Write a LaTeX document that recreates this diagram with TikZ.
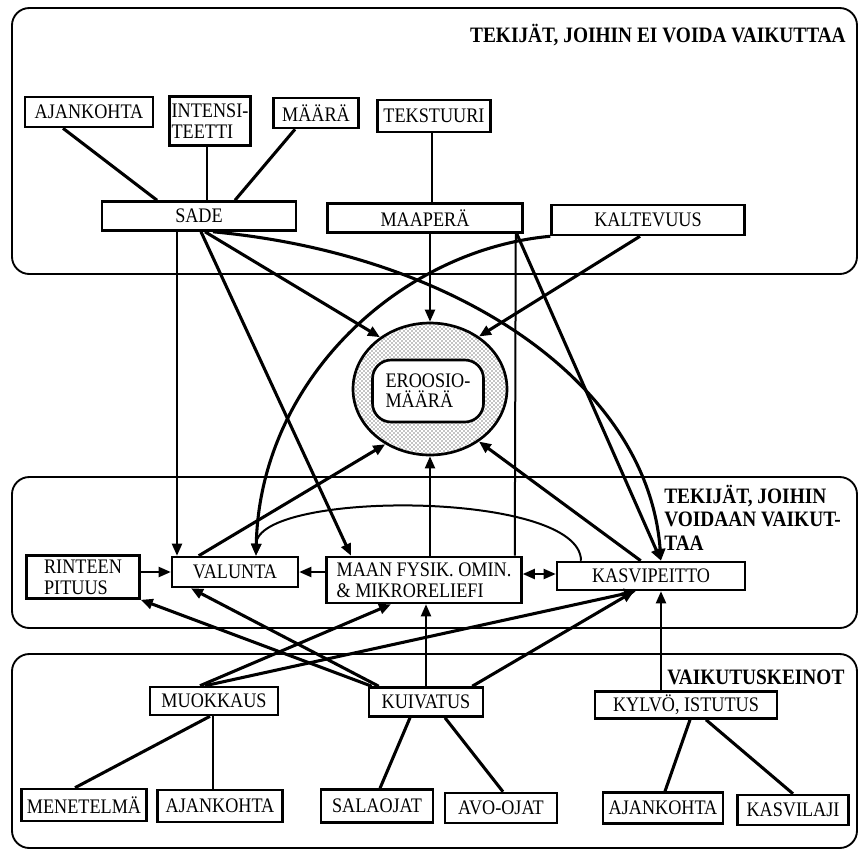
\documentclass[tikz,border=0pt]{standalone}
\usepackage{fontspec}
\setmainfont{Liberation Serif}[FakeStretch=0.88]
\usetikzlibrary{calc,arrows.meta,patterns,shapes.geometric}
\newcommand\boxfont{\fontsize{15.5}{16}\selectfont}
\newcommand\erofont{\fontsize{15.5}{15}\selectfont}
\newcommand\titfont{\fontsize{16.5}{17.5}\selectfont\bfseries}
\begin{document}
\begin{tikzpicture}[x=0.75pt,y=-0.75pt,
  bx/.style={draw,line width=1.9pt,fill=white,inner sep=0pt,font=\boxfont},
  sz/.style 2 args={minimum width=#1*0.75pt,minimum height=#2*0.75pt},
  panel/.style={draw,line width=1.4pt,rounded corners=13pt},
  titl/.style={font=\titfont,inner sep=0pt},
  thk/.style={line width=2.3pt},
  thn/.style={line width=1.5pt},
  ar/.style={-{Triangle[length=9pt,width=7.5pt]}},
  dar/.style={{Triangle[length=9pt,width=7.5pt]}-{Triangle[length=9pt,width=7.5pt]}}]
\useasboundingbox (0,0) rectangle (861,851);
% panels
\draw[panel] (12,8) rectangle (857,274);
\draw[panel] (12,477) rectangle (857,628);
\draw[panel] (12,654) rectangle (857,848);
% titles
\node[titl,anchor=east] (t1) at (846,35) {TEKIJÄT, JOIHIN EI VOIDA VAIKUTTAA};
\node[titl,anchor=north west,align=left] (t2) at (664,485) {TEKIJÄT, JOIHIN\\VOIDAAN VAIKUT-\\TAA};
\node[titl,anchor=west] (t3) at (667,677) {VAIKUTUSKEINOT};
% top nodes
\node[bx,sz={128}{30}] (aj1) at (89,112) {AJANKOHTA};
\node[bx,sz={81}{49},align=left] (int) at (210,121) {INTENSI-\\TEETTI};
\node[bx,sz={85}{30}] (maa) at (316,113) {MÄÄRÄ};
\node[bx,sz={113}{32}] (tek) at (434,116) {TEKSTUURI};
\node[bx,sz={194}{29}] (sade) at (199,216) {SADE};
\node[bx,sz={195}{29}] (maap) at (425,218) {MAAPERÄ};
\node[bx,sz={193}{30}] (kalt) at (648,220) {KALTEVUUS};
% erosion
\node[ellipse,draw,line width=2pt,pattern=crosshatch dots,sz={154}{132},inner sep=0pt] (ero) at (430,389) {};
\node[draw,line width=2pt,fill=white,rounded corners=14pt,sz={111}{62},align=left,font=\erofont,inner sep=0pt] (eroin) at (428,391) {EROOSIO-\\MÄÄRÄ};
% middle nodes
\node[bx,sz={113}{43},align=left] (rint) at (83,577) {RINTEEN\\PITUUS};
\node[bx,sz={126}{30}] (val) at (235,572) {VALUNTA};
\node[bx,sz={195}{46},align=left] (mfys) at (424,580) {MAAN FYSIK. OMIN.\\\& MIKRORELIEFI};
\node[bx,sz={188}{28}] (kasv) at (651,576) {KASVIPEITTO};
% bottom nodes
\node[bx,sz={128}{28}] (muok) at (214,701) {MUOKKAUS};
\node[bx,sz={114}{29}] (kuiv) at (426,702) {KUIVATUS};
\node[bx,sz={182}{27}] (kylv) at (686,705) {KYLVÖ, ISTUTUS};
\node[bx,sz={125}{32}] (men) at (84,805) {MENETELMÄ};
\node[bx,sz={125}{32}] (aj2) at (220,806) {AJANKOHTA};
\node[bx,sz={112}{33}] (sal) at (377,806) {SALAOJAT};
\node[bx,sz={112}{30}] (avo) at (501,808) {AVO-OJAT};
\node[bx,sz={120}{31}] (aj3) at (663,808) {AJANKOHTA};
\node[bx,sz={111}{30}] (kasl) at (793,810) {KASVILAJI};
% top plain lines
\draw[thk] ($(aj1.south)+(-26,0)$) -- ($(sade.north)+(-42,0)$);
\draw[thn] ($(int.south)+(-3,0)$) -- ($(sade.north)+(8,0)$);
\draw[thk] ($(maa.south)+(-21,0)$) -- ($(sade.north)+(36,0)$);
\draw[thn] ($(tek.south)+(-2,0)$) -- ($(maap.north)+(7,0)$);
% arrows from top
\draw[thn,ar] ($(sade.south)+(-22,0)$) -- ($(val.north)+(-58,0)$);
\draw[thk,ar] ($(sade.south)+(2,0)$) -- ($(mfys.north)+(-73,0)$);
\draw[thk,ar] ($(sade.south)+(6,0)$) -- (ero.134);
\draw[thk,ar] ($(sade.south)+(14,0)$) .. controls (460,255) and (648,385) .. ($(kasv.north)+(10,0)$);
\draw[thn,ar] ($(maap.south)+(5,0)$) -- (ero.north);
\draw[thk,ar] ($(maap.south east)+(-7,0)$) -- ($(kasv.north)+(10,0)$);
\draw[thn] ($(maap.south east)+(-8,0)$) -- ($(mfys.north east)+(-8,0)$);
\draw[thk,ar] ($(kalt.south)+(-8,0)$) -- (ero.47);
\draw[thk,ar] (kalt.south west) .. controls (400,250) and (260,380) .. ($(val.north)+(21,0)$);
% middle arrows
\draw[thk,ar] ($(val.north west)+(28,0)$) -- (ero.231);
\draw[thn,ar] ($(mfys.north)+(6,0)$) -- (ero.south);
\draw[thk,ar] ($(kasv.north west)+(85,0)$) -- (ero.313);
\draw[thn,ar] ($(kasv.north)+(-70,0)$) .. controls (581,490) and (257,490) .. ($(val.north)+(21,0)$);
\draw[thn,ar] ($(mfys.west)+(0,-8)$) -- (val.east);
\draw[thn,dar] ($(mfys.east)+(0,-6)$) -- ($(kasv.west)+(0,-2)$);
\draw[thn,ar] ($(rint.east)+(0,-5)$) -- (val.west);
% arrows from bottom
\draw[thk,ar] ($(muok.north)+(-14,0)$) -- ($(mfys.south)+(-33,0)$);
\draw[thk,ar] ($(muok.north)+(-9,0)$) -- ($(kasv.south)+(-15,0)$);
\draw[thk,ar] ($(kuiv.north west)+(11,0)$) -- ($(val.south)+(-44,0)$);
\draw[thk,ar] ($(kuiv.north west)+(4,0)$) -- (rint.south east);
\draw[thn,ar] (kuiv.north) -- ($(mfys.south)+(2,0)$);
\draw[thk,ar] ($(kuiv.north east)+(-12,0)$) -- ($(kasv.south)+(-17,0)$);
\draw[thn,ar] ($(kylv.north)+(-25,0)$) -- ($(kasv.south)+(10,0)$);
% bottom plain lines
\draw[thk] ($(muok.south)+(-4,0)$) -- ($(men.north)+(-9,0)$);
\draw[thn] ($(muok.south)+(-1,0)$) -- ($(aj2.north)+(-7,0)$);
\draw[thk] ($(kuiv.south)+(-16,0)$) -- ($(sal.north)+(3,0)$);
\draw[thk] ($(kuiv.south)+(19,0)$) -- ($(avo.north)+(2,0)$);
\draw[thk] ($(kylv.south)+(4,0)$) -- ($(aj3.north)+(2,0)$);
\draw[thk] ($(kylv.south)+(20,0)$) -- (kasl.north);
\end{tikzpicture}
\end{document}
